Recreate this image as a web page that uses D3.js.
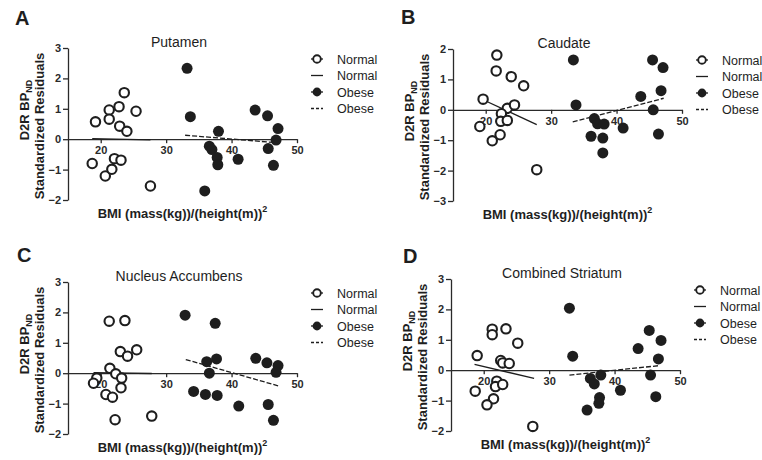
<!DOCTYPE html>
<html>
<head>
<meta charset="utf-8">
<script src="https://cdn.jsdelivr.net/npm/d3@7"></script>
<style>
    html, body { margin: 0; padding: 0; background: #fff; overflow: hidden; }
    svg { display: block; font-family: 'Liberation Sans', Arial, sans-serif; }
    .axis path, .axis line { stroke: #2a2a2a; stroke-width: 1.3; }
    .axis text { font-size: 11px; font-weight: bold; fill: #2a2a2a; }
</style>
</head>
<body>
<svg width="762" height="460" viewBox="0 0 762 460"></svg>
<script>
// values: [BMI, standardized residual]
const putamenNormal = [[19.2,0.57],[21.3,0.96],[22.8,1.07],[23.6,1.53],[25.4,0.92],[21.3,0.66],[22.9,0.43],[24.0,0.26],
    [18.7,-0.80],[20.7,-1.21],[21.7,-0.99],[22.1,-0.64],[23.1,-0.69],[27.6,-1.54]];
const putamenObese = [[33.2,2.33],[33.7,0.74],[38.0,0.26],[36.6,-0.23],[37.0,-0.34],[37.8,-0.60],[37.9,-0.84],[41.0,-0.66],
    [35.9,-1.70],[43.6,0.96],[45.5,0.77],[47.1,0.35],[46.8,-0.03],[45.6,-0.31],[46.4,-0.86]];
const putamenNormalFit = [[18.7,0.02],[27.6,-0.02]];
const putamenObeseFit = [[32.9,0.13],[47.2,-0.12]];

const caudateNormal = [[21.7,1.80],[21.6,1.28],[23.9,1.09],[25.8,0.79],[19.6,0.35],[23.3,0.05],[24.4,0.16],[22.4,-0.13],
    [22.3,-0.38],[23.3,-0.35],[19.1,-0.55],[22.2,-0.82],[21.0,-1.02],[27.8,-1.97]];
const caudateObese = [[33.4,1.64],[33.8,0.16],[36.6,-0.29],[37.1,-0.46],[38.1,-0.47],[36.1,-0.87],[37.9,-0.93],[37.9,-1.42],
    [41.0,-0.60],[43.7,0.44],[45.5,1.64],[47.1,1.39],[46.8,0.63],[45.6,0.0],[46.4,-0.80]];
const caudateNormalFit = [[19.6,0.33],[27.8,-0.49]];
const caudateObeseFit = [[33.3,-0.40],[47.2,0.38]];

const accumbensNormal = [[21.3,1.71],[23.7,1.73],[23.0,0.71],[24.1,0.56],[25.5,0.77],[21.4,0.16],[22.3,-0.02],[23.2,-0.16],
    [19.4,-0.16],[18.9,-0.33],[23.1,-0.48],[20.8,-0.70],[21.8,-0.79],[22.2,-1.53],[27.8,-1.41]];
const accumbensObese = [[32.9,1.91],[37.5,1.64],[36.2,0.38],[37.7,0.47],[36.6,0.0],[34.2,-0.60],[36.0,-0.70],[37.8,-0.73],
    [41.1,-1.08],[43.7,0.49],[45.4,0.34],[47.1,0.25],[46.8,0.03],[45.6,-1.03],[46.4,-1.55]];
const accumbensNormalFit = [[18.9,0.02],[27.8,-0.01]];
const accumbensObeseFit = [[33.0,0.45],[47.2,-0.42]];

const striatumNormal = [[21.3,1.35],[21.3,1.17],[23.4,1.36],[25.2,0.89],[19.0,0.48],[22.6,0.32],[22.9,0.24],[23.9,0.22],
    [22.0,-0.36],[21.8,-0.54],[22.9,-0.47],[18.7,-0.69],[21.5,-0.94],[20.5,-1.14],[27.5,-1.85]];
const striatumObese = [[33.1,2.04],[33.6,0.46],[36.3,-0.27],[36.9,-0.45],[37.9,-0.16],[37.7,-0.90],[37.6,-1.09],[35.8,-1.31],
    [40.9,-0.66],[43.6,0.71],[45.3,1.31],[47.1,0.98],[46.7,0.37],[45.5,-0.16],[46.3,-0.87]];
const striatumNormalFit = [[18.6,0.19],[27.7,-0.27]];
const striatumObeseFit = [[33.1,-0.16],[46.8,0.15]];

const xTicks = [20, 30, 40, 50];
const legendLabels = ['Normal', 'Normal', 'Obese', 'Obese'];

const panels = [
    { letter: 'A', title: 'Putamen', yDomain: [-2, 3], normal: putamenNormal, obese: putamenObese,
      normalFit: putamenNormalFit, obeseFit: putamenObeseFit, ox: 68, oy: 48, lx: 15, ly: 25 },
    { letter: 'B', title: 'Caudate', yDomain: [-3, 2], normal: caudateNormal, obese: caudateObese,
      normalFit: caudateNormalFit, obeseFit: caudateObeseFit, ox: 453, oy: 49, lx: 401, ly: 24 },
    { letter: 'C', title: 'Nucleus Accumbens', yDomain: [-2, 3], normal: accumbensNormal, obese: accumbensObese,
      normalFit: accumbensNormalFit, obeseFit: accumbensObeseFit, ox: 68, oy: 282, lx: 17, ly: 262 },
    { letter: 'D', title: 'Combined Striatum', yDomain: [-2, 3], normal: striatumNormal, obese: striatumObese,
      normalFit: striatumNormalFit, obeseFit: striatumObeseFit, ox: 451, oy: 279, lx: 403, ly: 263 }
];

const innerWidth = 229;
const innerHeight = 152;
const ink = '#1e1e1e';

const svg = d3.select('svg');

panels.forEach(p => {
    svg.append('text')
        .attr('x', p.lx)
        .attr('y', p.ly)
        .attr('font-size', 20)
        .attr('font-weight', 'bold')
        .attr('fill', ink)
        .text(p.letter);

    let x = d3.scaleLinear().domain([15, 50]).range([0, innerWidth]);
    let y = d3.scaleLinear().domain(p.yDomain).range([innerHeight, 0]);

    let g = svg.append('g').attr('transform', `translate(${p.ox}, ${p.oy})`);

    g.append('g')
        .attr('class', 'axis axis--y')
        .call(d3.axisLeft(y).ticks(5).tickSize(5).tickSizeOuter(0).tickPadding(2).tickFormat(d3.format('d')));

    g.append('g')
        .attr('class', 'axis axis--x')
        .attr('transform', `translate(0, ${y(0)})`)
        .call(d3.axisBottom(x).tickValues(xTicks).tickSize(4).tickSizeOuter(0).tickPadding(3));

    g.append('text')
        .attr('x', 111)
        .attr('y', -1)
        .attr('text-anchor', 'middle')
        .attr('font-size', 14)
        .attr('fill', ink)
        .text(p.title);

    // axis titles
    let xt = g.append('text')
        .attr('x', innerWidth / 2)
        .attr('y', 170)
        .attr('text-anchor', 'middle')
        .attr('font-size', 13)
        .attr('font-weight', 'bold')
        .attr('fill', ink)
        .text('BMI (mass(kg))/(height(m))');
    xt.append('tspan').attr('dy', -6).attr('font-size', 9).text('2');

    let yt1 = g.append('text')
        .attr('transform', `translate(-39, 62) rotate(-90)`)
        .attr('text-anchor', 'middle')
        .attr('font-size', 13)
        .attr('font-weight', 'bold')
        .attr('fill', ink)
        .text('D2R BP');
    yt1.append('tspan').attr('dy', 3).attr('font-size', 9).text('ND');

    g.append('text')
        .attr('transform', `translate(-24, ${innerHeight / 2 + 2}) rotate(-90)`)
        .attr('text-anchor', 'middle')
        .attr('font-size', 13)
        .attr('font-weight', 'bold')
        .attr('fill', ink)
        .text('Standardized Residuals');

    // regression lines
    let line = d3.line().x(d => x(d[0])).y(d => y(d[1]));
    g.append('path').datum(p.normalFit)
        .attr('d', line).attr('fill', 'none').attr('stroke', ink).attr('stroke-width', 1.3);
    g.append('path').datum(p.obeseFit)
        .attr('d', line).attr('fill', 'none').attr('stroke', ink).attr('stroke-width', 1.3)
        .attr('stroke-dasharray', '5,2');

    g.append('g').selectAll('circle')
        .data(p.normal)
        .enter().append('circle')
        .attr('cx', d => x(d[0]))
        .attr('cy', d => y(d[1]))
        .attr('r', 4.7)
        .attr('fill', '#fff')
        .attr('stroke', ink)
        .attr('stroke-width', 2.1);

    g.append('g').selectAll('circle')
        .data(p.obese)
        .enter().append('circle')
        .attr('cx', d => x(d[0]))
        .attr('cy', d => y(d[1]))
        .attr('r', 5.5)
        .attr('fill', ink);

    // legend
    let lg = g.append('g').attr('transform', 'translate(249, 11)');
    legendLabels.forEach((label, i) => {
        let row = lg.append('g').attr('transform', `translate(0, ${i * 16.5})`);
        let seg = row.append('line')
            .attr('x1', -6).attr('x2', 6)
            .attr('stroke', ink).attr('stroke-width', 1.3);
        if (i === 3) seg.attr('stroke-dasharray', '3,2');
        if (i === 0) {
            row.append('circle').attr('r', 3.8).attr('fill', '#fff').attr('stroke', ink).attr('stroke-width', 1.9);
        }
        if (i === 2) {
            row.append('circle').attr('r', 4.4).attr('fill', ink);
        }
        row.append('text')
            .attr('x', 20)
            .attr('y', 4.5)
            .attr('font-size', 12.5)
            .attr('fill', ink)
            .text(label);
    });
});
</script>
</body>
</html>
